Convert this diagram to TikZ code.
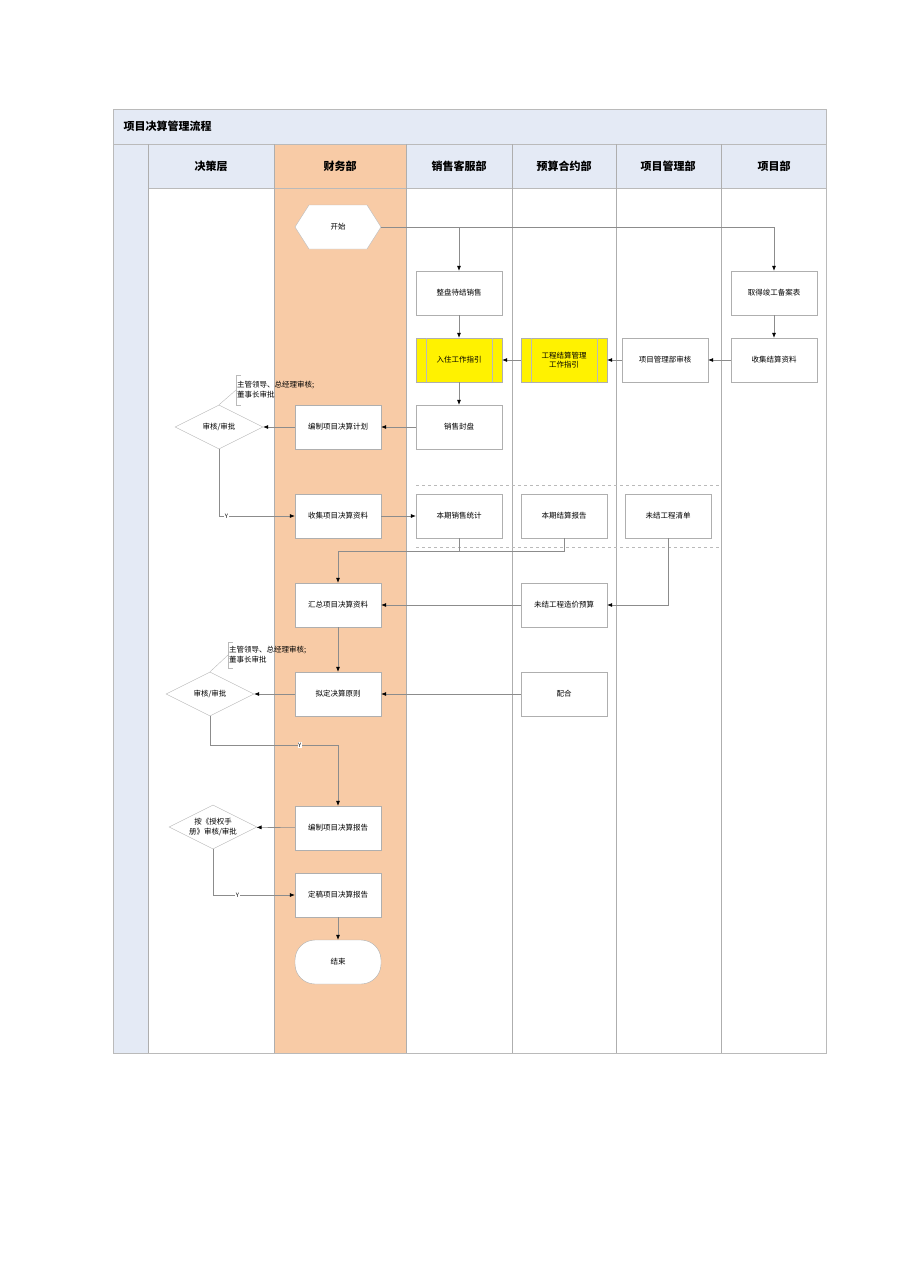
\documentclass[tikz,border=0pt]{standalone}
\usepackage{fontspec}
\setmainfont{Noto Sans CJK SC}
\usetikzlibrary{shapes.geometric,arrows.meta}
\definecolor{hdr}{HTML}{E4EAF5}
\definecolor{fin}{HTML}{F8CBA6}
\definecolor{ln}{HTML}{8C8C8C}
\tikzset{
 box/.style={draw=ln!70,fill=white,minimum width=86pt,minimum height=44pt,inner sep=1pt,font=\fontsize{7.5}{9.5}\selectfont,align=center},
 ybox/.style={box,fill=yellow},
 dia/.style={diamond,draw=ln!60,fill=white,aspect=2,minimum width=88pt,minimum height=44pt,inner sep=0pt,font=\fontsize{7.5}{9.5}\selectfont,align=center},
 ar/.style={draw=ln,line width=0.6pt,-{Latex[length=5pt,width=4pt,black]}},
 lk/.style={draw=ln,line width=0.6pt},
 hd/.style={font=\bfseries\fontsize{11}{13}\selectfont},
 yl/.style={font=\fontsize{6}{7}\selectfont,fill=white,inner sep=0.5pt},
 note/.style={font=\fontsize{7.5}{10}\selectfont,align=left,inner sep=1pt,anchor=west}
}
\begin{document}
\begin{tikzpicture}[x=1pt,y=-1pt]
\useasboundingbox (0,0) rectangle (909,1286);
\fill[hdr] (113,109) rectangle (826,144);
\fill[hdr] (113,144) rectangle (148,1053);
\fill[hdr] (148,144) rectangle (826,188);
\fill[fin] (274,144) rectangle (406,1053);
\draw[ln!60] (113,109) rectangle (826,1053);
\draw[ln!60] (113,144) -- (826,144) (148,188) -- (826,188);
\foreach \x in {148,274,406,512,616,721} \draw[ln!70] (\x,144) -- (\x,1053);
\node[hd,anchor=west] (title) at (120,126) {项目决算管理流程};
\node[hd] (h1) at (211,166) {决策层};
\node[hd] (h2) at (340,166) {财务部};
\node[hd] (h3) at (459,166) {销售客服部};
\node[hd] (h4) at (564,166) {预算合约部};
\node[hd] (h5) at (668,166) {项目管理部};
\node[hd] (h6) at (774,166) {项目部};
\draw[ln!60,dashed] (416,485) -- (720,485) (416,547) -- (720,547);
\draw[ln!60,fill=white] (295,227) -- (309,205) -- (367,205) -- (381,227) -- (367,249) -- (309,249) -- cycle;
\node[font=\fontsize{7.5}{9.5}\selectfont] (start) at (338,227) {开始};
\coordinate (sr) at (381,227);
\node[box] (zp) at (459,293) {整盘待结销售};
\node[ybox] (rz) at (459,360) {入住工作指引};
\node[ybox] (gc) at (564,360) {工程结算管理\\工作指引};
\foreach \n in {rz,gc}{\draw[ln!60] ([xshift=10pt]\n.north west) -- ([xshift=10pt]\n.south west) ([xshift=-10pt]\n.north east) -- ([xshift=-10pt]\n.south east);}
\node[box] (xm) at (665,360) {项目管理部审核};
\node[box] (sj) at (774,360) {收集结算资料};
\node[box] (qd) at (774,293) {取得竣工备案表};
\node[box] (fp) at (459,427) {销售封盘};
\node[box] (bj) at (338,427) {编制项目决算计划};
\node[dia] (d1) at (219,427) {审核/审批};
\node[note] (n1) at (236,390) {主管领导、总经理审核;\\董事长审批};
\node[box] (sjz) at (338,516) {收集项目决算资料};
\node[box] (bq) at (459,516) {本期销售统计};
\node[box] (bjs) at (564,516) {本期结算报告};
\node[box] (wj) at (668,516) {未结工程清单};
\node[box] (hz) at (338,605) {汇总项目决算资料};
\node[box] (wz) at (564,605) {未结工程造价预算};
\node[box] (nd) at (338,694) {拟定决算原则};
\node[box] (ph) at (564,694) {配合};
\node[dia] (d2) at (210,694) {审核/审批};
\node[note] (n2) at (228,655) {主管领导、总经理审核;\\董事长审批};
\node[box] (bg) at (338,828) {编制项目决算报告};
\node[dia] (d3) at (213,827) {按《授权手\\册》审核/审批};
\node[box] (dg) at (338,895) {定稿项目决算报告};
\node[box,rounded corners=20pt] (end) at (338,962) {结束};
\draw[ln!60] (241,375) -- (236,375) -- (236,405) -- (241,405);
\draw[ln!60] (d1.north) -- (236,390);
\draw[ln!60] (233,642) -- (228,642) -- (228,668) -- (233,668);
\draw[ln!60] (d2.north) -- (228,655);
\draw[ar] (sr) -| (zp.north);
\draw[ar] (sr) -| (qd.north);
\draw[ar] (zp) -- (rz);
\draw[ar] (rz) -- (fp);
\draw[ar] (gc) -- (rz);
\draw[ar] (xm) -- (gc);
\draw[ar] (sj) -- (xm);
\draw[ar] (qd) -- (sj);
\draw[ar] (fp) -- (bj);
\draw[ar] (bj) -- (d1);
\draw[ar] (d1.south) |- node[yl,pos=0.55]{Y} (sjz.west);
\draw[ar] (sjz) -- (bq);
\coordinate (j1) at (338,551);
\draw[lk] (bq.south) |- (j1);
\draw[lk] (bjs.south) |- (j1);
\draw[ar] (j1) -- (hz.north);
\draw[ar] (wj.south) |- (wz.east);
\draw[ar] (wz) -- (hz);
\draw[ar] (hz) -- (nd);
\draw[ar] (ph) -- (nd);
\draw[ar] (nd) -- (d2);
\coordinate (j2) at (338,745);
\draw[lk] (d2.south) |- node[yl,pos=0.85]{Y} (j2);
\draw[ar] (j2) -- (bg.north);
\draw[ar] (bg) -- (d3);
\draw[ar] (d3.south) |- node[yl,pos=0.65]{Y} (dg.west);
\draw[ar] (dg) -- (end);
\end{tikzpicture}
\end{document}
